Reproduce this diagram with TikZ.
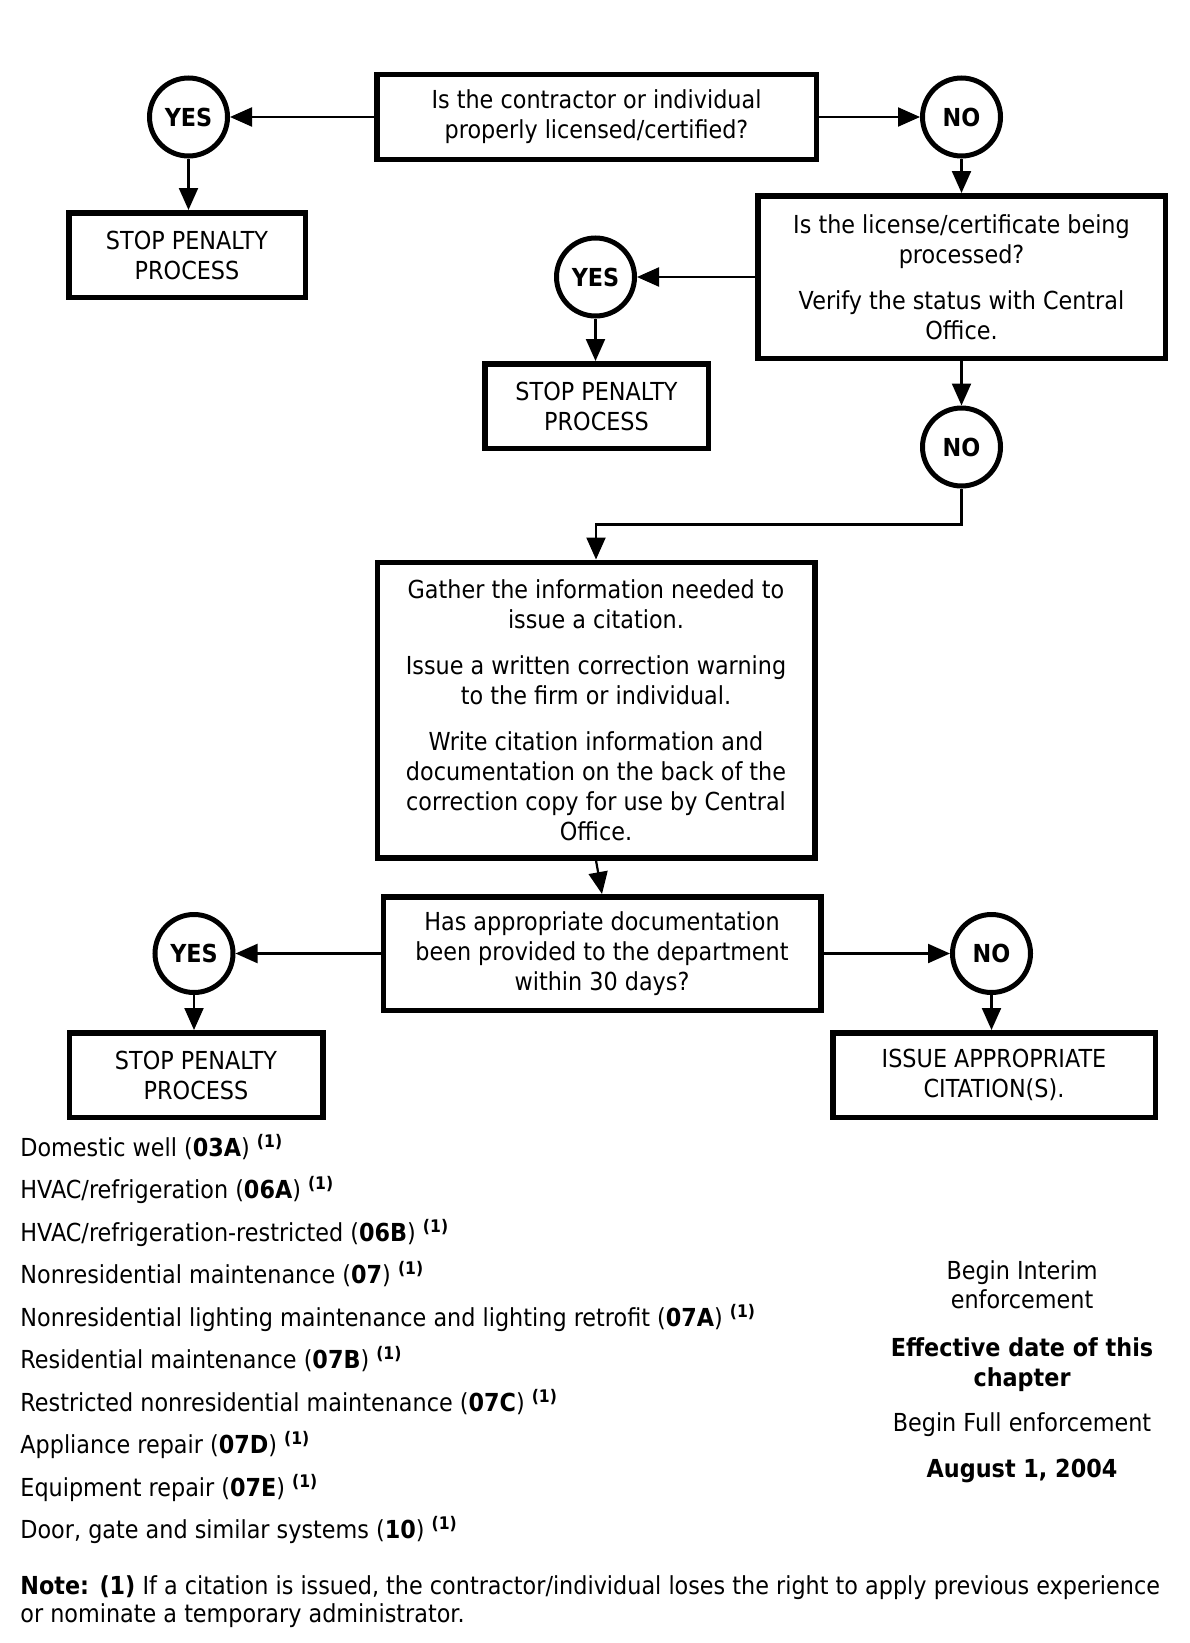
\documentclass[tikz,border=0pt]{standalone}
\usepackage{fontspec}
\setmainfont{DejaVu Sans}[FakeStretch=0.9]
\usetikzlibrary{arrows.meta}

\newcommand{\fnmark}{\textsuperscript{\bfseries(1)}}

\tikzset{
  box/.style={draw,line width=2.75pt,align=center,inner sep=0pt},
  answer/.style={draw,circle,line width=2.5pt,minimum size=39pt,inner sep=0pt,
    font=\fontsize{12.4}{15}\selectfont\bfseries},
  conn/.style={line width=1.1pt,-{Triangle[length=11pt,width=9.5pt]}},
  listitem/.style={anchor=base west,inner sep=0pt},
  sidetext/.style={anchor=base,inner sep=0pt}
}

\begin{document}
\begin{tikzpicture}[x=0.5pt,y=-0.5pt,font=\fontsize{12.4}{15}\selectfont]
  \useasboundingbox (0,0) rectangle (1189,1643);

  % first question
  \node[box,minimum width=219.75pt,minimum height=42.25pt] (licensed) at (596.5,117)
    {Is the contractor or individual\\properly licensed/certified?};
  \node[answer] (yes1) at (188.5,117) {YES};
  \node[answer] (no1) at (961.5,117) {NO};
  \node[box,minimum width=118.25pt,minimum height=42.25pt] (stop1) at (187,255)
    {STOP PENALTY\\PROCESS};

  % second question
  \node[box,minimum width=203.75pt,minimum height=81.25pt] (processed) at (961.5,277)
    {Is the license/certificate being\\processed?\\[8pt]
     Verify the status with Central\\Office.};
  \node[answer] (yes2) at (595.5,277) {YES};
  \node[box,minimum width=111.75pt,minimum height=42.25pt] (stop2) at (596.5,406)
    {STOP PENALTY\\PROCESS};
  \node[answer] (no2) at (961.5,447) {NO};

  % gather information
  \node[box,minimum width=218.75pt,minimum height=147.75pt] (gather) at (596,710)
    {Gather the information needed to\\issue a citation.\\[8pt]
     Issue a written correction warning\\to the firm or individual.\\[8pt]
     Write citation information and\\documentation on the back of the\\
     correction copy for use by Central\\Office.};

  % third question
  \node[box,minimum width=218.75pt,minimum height=56.75pt] (provided) at (602,953.5)
    {Has appropriate documentation\\been provided to the department\\within 30 days?};
  \node[answer] (yes3) at (194,953.5) {YES};
  \node[answer] (no3) at (991.5,953.5) {NO};
  \node[box,minimum width=126.75pt,minimum height=42.25pt] (stop3) at (196,1075)
    {STOP PENALTY\\PROCESS};
  \node[box,minimum width=161.25pt,minimum height=42.25pt] (issue) at (994,1075)
    {ISSUE APPROPRIATE\\CITATION(S).};

  % connectors
  \draw[conn] (licensed) -- (yes1);
  \draw[conn] (licensed) -- (no1);
  \draw[conn] (yes1) -- (yes1 |- stop1.north);
  \draw[conn] (no1) -- (no1 |- processed.north);
  \draw[conn] (processed) -- (yes2);
  \draw[conn] (yes2) -- (yes2 |- stop2.north);
  \draw[conn] (processed.south -| no2) -- (no2);
  \draw[conn] (no2.south) -- ++(0,36) -| (gather.north);
  \draw[conn] (gather.south) -- (provided.north);
  \draw[conn] (provided) -- (yes3);
  \draw[conn] (provided) -- (no3);
  \draw[conn] (yes3) -- (yes3 |- stop3.north);
  \draw[conn] (no3) -- (no3 |- issue.north);

  % license types
  \node[listitem] (type1) at (20,1156) {Domestic well (\textbf{03A}) \fnmark};
  \node[listitem] (type2) at (20,1198.5) {HVAC/refrigeration (\textbf{06A}) \fnmark};
  \node[listitem] (type3) at (20,1241) {HVAC/refrigeration-restricted (\textbf{06B}) \fnmark};
  \node[listitem] (type4) at (20,1283.5) {Nonresidential maintenance (\textbf{07}) \fnmark};
  \node[listitem] (type5) at (20,1326) {Nonresidential lighting maintenance and lighting retrofit (\textbf{07A}) \fnmark};
  \node[listitem] (type6) at (20,1368.5) {Residential maintenance (\textbf{07B}) \fnmark};
  \node[listitem] (type7) at (20,1411) {Restricted nonresidential maintenance (\textbf{07C}) \fnmark};
  \node[listitem] (type8) at (20,1453.5) {Appliance repair (\textbf{07D}) \fnmark};
  \node[listitem] (type9) at (20,1496) {Equipment repair (\textbf{07E}) \fnmark};
  \node[listitem] (type10) at (20,1538.5) {Door, gate and similar systems (\textbf{10}) \fnmark};

  % enforcement dates
  \node[sidetext] (interim1) at (1022,1279) {Begin Interim};
  \node[sidetext] (interim2) at (1022,1308) {enforcement};
  \node[sidetext] (effective1) at (1022,1356.5) {\textbf{Effective date of this}};
  \node[sidetext] (effective2) at (1022,1386) {\textbf{chapter}};
  \node[sidetext] (full) at (1022,1431) {Begin Full enforcement};
  \node[sidetext] (date) at (1022,1477) {\textbf{August 1, 2004}};

  % note
  \node[listitem] (note1) at (20,1594) {\textbf{Note: (1)} If a citation is issued, the contractor/individual loses the right to apply previous experience};
  \node[listitem] (note2) at (20,1622) {or nominate a temporary administrator.};
\end{tikzpicture}
\end{document}
